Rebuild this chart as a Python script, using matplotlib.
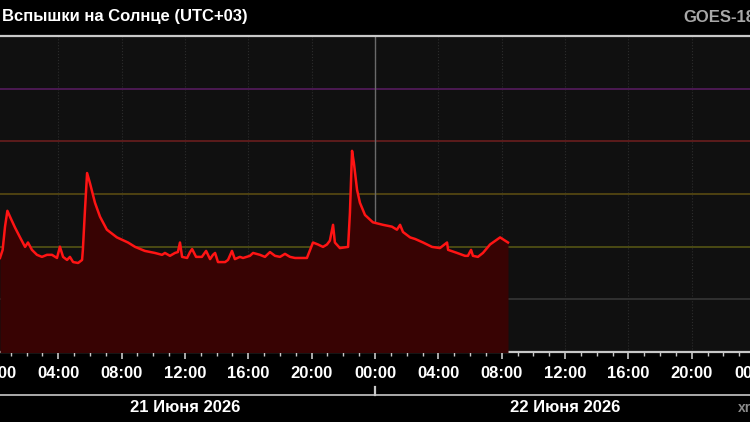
import matplotlib
matplotlib.use("Agg")
import matplotlib.pyplot as plt
import matplotlib.dates as mdates
import matplotlib.transforms as mtransforms
import numpy as np
import pandas as pd

plt.rcParams['font.family'] = ['Liberation Sans', 'DejaVu Sans']

# время (UTC+03) и поток рентгеновского излучения, Вт/м2
times = [
    "2026-06-21 00:19", "2026-06-21 00:29", "2026-06-21 00:38", "2026-06-21 00:47",
    "2026-06-21 00:57", "2026-06-21 01:16", "2026-06-21 01:35", "2026-06-21 01:54",
    "2026-06-21 02:05", "2026-06-21 02:20", "2026-06-21 02:39", "2026-06-21 02:58",
    "2026-06-21 03:17", "2026-06-21 03:36", "2026-06-21 03:55", "2026-06-21 04:06",
    "2026-06-21 04:18", "2026-06-21 04:33", "2026-06-21 04:44", "2026-06-21 04:56",
    "2026-06-21 05:15", "2026-06-21 05:30", "2026-06-21 05:33", "2026-06-21 05:41",
    "2026-06-21 05:49", "2026-06-21 06:00", "2026-06-21 06:19", "2026-06-21 06:38",
    "2026-06-21 07:04", "2026-06-21 07:42", "2026-06-21 08:24", "2026-06-21 08:51",
    "2026-06-21 09:28", "2026-06-21 10:06", "2026-06-21 10:33", "2026-06-21 10:44",
    "2026-06-21 11:03", "2026-06-21 11:22", "2026-06-21 11:33", "2026-06-21 11:41",
    "2026-06-21 11:49", "2026-06-21 12:08", "2026-06-21 12:19", "2026-06-21 12:27",
    "2026-06-21 12:42", "2026-06-21 13:04", "2026-06-21 13:20", "2026-06-21 13:35",
    "2026-06-21 13:46", "2026-06-21 13:54", "2026-06-21 14:05", "2026-06-21 14:32",
    "2026-06-21 14:43", "2026-06-21 14:58", "2026-06-21 15:09", "2026-06-21 15:28",
    "2026-06-21 15:40", "2026-06-21 16:06", "2026-06-21 16:18", "2026-06-21 16:44",
    "2026-06-21 17:03", "2026-06-21 17:22", "2026-06-21 17:41", "2026-06-21 18:00",
    "2026-06-21 18:19", "2026-06-21 18:38", "2026-06-21 18:57", "2026-06-21 19:16",
    "2026-06-21 19:42", "2026-06-21 20:05", "2026-06-21 20:24", "2026-06-21 20:43",
    "2026-06-21 20:58", "2026-06-21 21:09", "2026-06-21 21:21", "2026-06-21 21:28",
    "2026-06-21 21:47", "2026-06-21 22:18", "2026-06-21 22:25", "2026-06-21 22:33",
    "2026-06-21 22:40", "2026-06-21 22:52", "2026-06-21 23:03", "2026-06-21 23:22",
    "2026-06-21 23:52", "2026-06-22 00:30", "2026-06-22 01:04", "2026-06-22 01:23",
    "2026-06-22 01:35", "2026-06-22 01:46", "2026-06-22 02:13", "2026-06-22 02:32",
    "2026-06-22 03:02", "2026-06-22 03:36", "2026-06-22 04:06", "2026-06-22 04:33",
    "2026-06-22 04:37", "2026-06-22 05:11", "2026-06-22 05:41", "2026-06-22 05:52",
    "2026-06-22 06:04", "2026-06-22 06:11", "2026-06-22 06:30", "2026-06-22 06:49",
    "2026-06-22 07:16", "2026-06-22 07:54", "2026-06-22 08:13", "2026-06-22 08:24",
]
flux = [
    6.1e-8, 8.7e-8, 2.4e-7, 4.8e-7,
    3.7e-7, 2.3e-7, 1.5e-7, 9.9e-8,
    1.2e-7, 8.7e-8, 7.0e-8, 6.4e-8,
    7.0e-8, 7.0e-8, 6.1e-8, 1.0e-7,
    6.4e-8, 5.6e-8, 6.4e-8, 5.1e-8,
    4.9e-8, 5.6e-8, 8.7e-8, 5.0e-7,
    2.5e-6, 1.6e-6, 6.8e-7, 3.7e-7,
    2.1e-7, 1.5e-7, 1.2e-7, 9.9e-8,
    8.3e-8, 7.6e-8, 7.0e-8, 7.6e-8,
    6.7e-8, 7.6e-8, 7.9e-8, 1.2e-7,
    6.4e-8, 6.1e-8, 7.9e-8, 9.0e-8,
    6.4e-8, 6.4e-8, 8.3e-8, 5.8e-8,
    7.0e-8, 7.6e-8, 5.1e-8, 5.1e-8,
    5.6e-8, 8.3e-8, 5.8e-8, 6.4e-8,
    6.1e-8, 6.7e-8, 7.6e-8, 7.0e-8,
    6.4e-8, 7.9e-8, 6.7e-8, 6.4e-8,
    7.3e-8, 6.4e-8, 6.1e-8, 6.1e-8,
    6.1e-8, 1.2e-7, 1.1e-7, 9.9e-8,
    1.1e-7, 1.3e-7, 2.6e-7, 1.2e-7,
    9.4e-8, 9.9e-8, 4.4e-7, 6.6e-6,
    3.9e-6, 1.2e-6, 6.8e-7, 4.0e-7,
    2.9e-7, 2.6e-7, 2.4e-7, 2.1e-7,
    2.6e-7, 1.9e-7, 1.5e-7, 1.4e-7,
    1.2e-7, 9.9e-8, 9.4e-8, 1.2e-7,
    8.7e-8, 7.6e-8, 6.7e-8, 6.7e-8,
    8.7e-8, 6.7e-8, 6.4e-8, 7.6e-8,
    1.1e-7, 1.5e-7, 1.3e-7, 1.2e-7,
]

# уровни классов вспышек
levels = [1e-4, 1e-5, 1e-6, 1e-7, 1e-8]
level_colors = ['#4b1a52', '#5c1c1c', '#4e4212', '#4a4a14', '#303030']

day_labels = ["21 Июня 2026", "22 Июня 2026"]
day_centers = ["2026-06-21 12:00", "2026-06-22 12:00"]
day_edges = ["2026-06-22 00:00"]

t = pd.to_datetime(times)
x_start = pd.Timestamp("2026-06-21 00:19")
x_end = pd.Timestamp("2026-06-22 23:41")
tick_times = pd.date_range("2026-06-21 00:00", "2026-06-23 00:00", freq="4h")

fig = plt.figure(figsize=(7.5, 4.22), dpi=100, facecolor='black')
ax = fig.add_axes([0, 70 / 422, 1, 316 / 422])
ax.set_facecolor('#101010')

ax.set_yscale('log')
ax.set_ylim(1e-9, 1e-3)
ax.set_xlim(x_start, x_end)

# сетка
ax.grid(True, which='major', axis='x', color='#2c2c2c', linestyle=':', linewidth=0.8)
ax.grid(True, which='minor', axis='y', color='#1f1f1f', linestyle=':', linewidth=0.8)

for lv, c in zip(levels, level_colors):
    ax.axhline(lv, color=c, linewidth=1.4, zorder=2)

for d in day_edges:
    ax.axvline(pd.Timestamp(d), color='#6a6a6a', linewidth=1.0, zorder=2)

ax.fill_between(t, flux, 1e-10, color='#380303', linewidth=0, zorder=3)
ax.plot(t, flux, color='#ff1414', linewidth=1.8, zorder=4, solid_joinstyle='round')

# оси
for s in ['left', 'right']:
    ax.spines[s].set_visible(False)
ax.spines['top'].set_color('#c8c8c8')
ax.spines['top'].set_linewidth(1.6)
ax.spines['bottom'].set_color('#c8c8c8')
ax.spines['bottom'].set_linewidth(1.6)

ax.yaxis.set_visible(False)
ax.xaxis.set_major_locator(mdates.HourLocator(byhour=range(0, 24, 4)))
ax.xaxis.set_minor_locator(mdates.HourLocator())
ax.tick_params(axis='x', which='major', length=5, width=1.2, color='#c8c8c8',
               labelbottom=False)
ax.tick_params(axis='x', which='minor', length=3, width=1.0, color='#c8c8c8')

trans = mtransforms.blended_transform_factory(ax.transData, ax.transAxes)

# подписи часов (включая обрезанные по краям)
for tt in tick_times:
    ax.text(tt, -21 / 316, tt.strftime('%H:%M'), transform=trans, ha='center',
            va='center', color='white', fontsize=12, fontweight='bold', clip_on=False)

# строка дат
ax.plot([0, 1], [-43 / 316, -43 / 316], transform=ax.transAxes, color='#c8c8c8',
        linewidth=1.2, clip_on=False)
for d in day_edges:
    dd = mdates.date2num(pd.Timestamp(d))
    ax.plot([dd, dd], [-43 / 316, -35 / 316], transform=trans, color='#c8c8c8',
            linewidth=1.6, clip_on=False)
for lab, c in zip(day_labels, day_centers):
    ax.text(pd.Timestamp(c), -55 / 316, lab, transform=trans, ha='center', va='center',
            color='white', fontsize=12, fontweight='bold', clip_on=False)

fig.text(2 / 750, 1 - 16 / 422, "Вспышки на Солнце (UTC+03)", color='white',
         fontsize=12, fontweight='bold', ha='left', va='center')
fig.text(683 / 750, 1 - 17 / 422, "GOES-18", color='#a8a8a8',
         fontsize=12, fontweight='bold', ha='left', va='center')
fig.text(738 / 750, 1 - 408 / 422, "xras.ru", color='#8a8a8a',
         fontsize=10, fontweight='bold', ha='left', va='center')

fig.savefig('out.png', dpi=100, facecolor='black')
